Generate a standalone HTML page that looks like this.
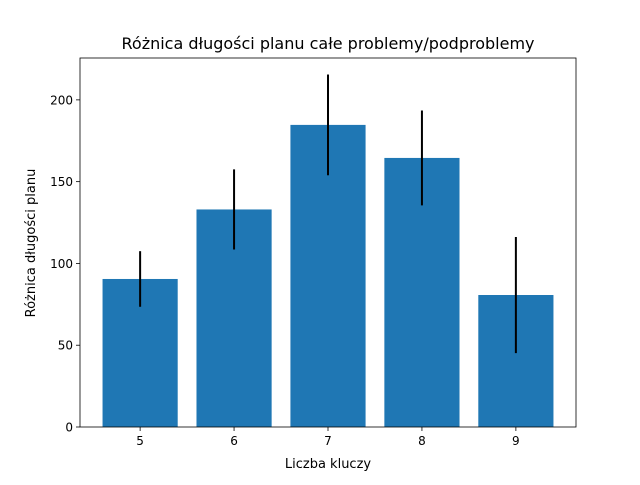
<!DOCTYPE html>
<html><head><meta charset="utf-8"><style>
body{margin:0;background:#fff}
text{font-family:"DejaVu Sans","Liberation Sans",sans-serif;fill:#000}
</style></head><body>
<svg id="chart" width="640" height="480" xmlns="http://www.w3.org/2000/svg">
<rect width="640" height="480" fill="#fff"/>
<text x="328" y="49" font-size="16" text-anchor="middle">Różnica długości planu całe problemy/podproblemy</text>
<text x="328" y="468" font-size="13" text-anchor="middle">Liczba kluczy</text>
<text transform="translate(35,243) rotate(-90)" font-size="13" text-anchor="middle">Różnica długości planu</text>
<g id="bars"></g><g id="axes"></g>
</svg>
<script>
const categories=[5,6,7,8,9];
const values=[90.5,133,184.7,164.5,80.7];
const errors=[17,24.5,30.8,29,35.5];
const yTicks=[0,50,100,150,200];
const L=80,R=576,T=58,B=427,xmin=4.36,xmax=9.64,ymax=225.6;
const sx=v=>L+(v-xmin)/(xmax-xmin)*(R-L);
const sy=v=>B-v/ymax*(B-T);
const NS="http://www.w3.org/2000/svg";
function mk(tag,attrs,parent){const e=document.createElementNS(NS,tag);for(const k in attrs)e.setAttribute(k,attrs[k]);parent.appendChild(e);return e;}
const bars=document.getElementById('bars'),axes=document.getElementById('axes');
categories.forEach((c,i)=>{
  const w=sx(c+0.4)-sx(c-0.4);
  const r=mk('rect',{x:sx(c-0.4),y:sy(values[i]),width:w,height:B-sy(values[i]),fill:'#1f77b4'},bars);
  
  
  const e=mk('line',{x1:sx(c),x2:sx(c),y1:sy(values[i]-errors[i]),y2:sy(values[i]+errors[i]),stroke:'#000','stroke-width':2},bars);
  
  
  mk('line',{x1:sx(c),x2:sx(c),y1:B,y2:B+4,stroke:'#000','stroke-width':0.8},axes);
  const t=mk('text',{x:sx(c),y:B+18,'font-size':10*1.2,'text-anchor':'middle'},axes);
  t.textContent=c;
  
  
});
yTicks.forEach(v=>{
  mk('line',{x1:L-4,x2:L,y1:sy(v),y2:sy(v),stroke:'#000','stroke-width':0.8},axes);
  const t=mk('text',{x:L-7,y:sy(v)+4.5,'font-size':12,'text-anchor':'end'},axes);
  t.textContent=v;
  
  
});
const f=mk('rect',{x:L,y:T,width:R-L,height:B-T,fill:'none',stroke:'#000','stroke-width':0.8},axes);


</script>
</body></html>
